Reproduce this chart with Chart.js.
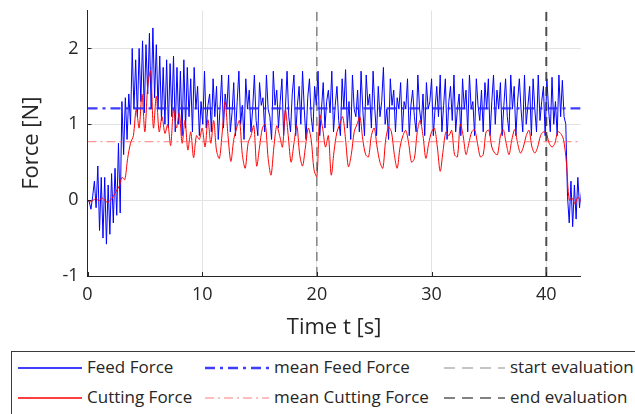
<!DOCTYPE html>
<html>
<head>
<meta charset="utf-8">
<script src="https://cdn.jsdelivr.net/npm/chart.js@4.4.0/dist/chart.umd.min.js"></script>
<style>
  html, body { margin: 0; padding: 0; background: #fff; overflow: hidden; }
  body { width: 635px; height: 414px; position: relative; font-family: "Open Sans", sans-serif; }
  #chartBox { position: absolute; left: 0; top: 0; width: 635px; height: 345px; }
  #legendBox { position: absolute; left: 11px; top: 351px; width: 640px; height: 80px;
               border: 1.5px solid #3a3a3a; box-sizing: border-box; }
  .item { position: absolute; height: 20px; font-size: 17px; color: #262626; line-height: 20px; white-space: nowrap; }
  .item svg { position: absolute; left: 0; top: 0; }
  .item span { position: absolute; top: -1px; }
</style>
</head>
<body>
<div id="chartBox"><canvas id="forceChart" width="635" height="345"></canvas></div>
<div id="legendBox"></div>
<script>
// sampling grids (s)
const feedStep = 0.15;
const cutStep = 0.25;

// Feed force [N], one value per feedStep
const feedForce = [
  0.0, -0.02, -0.12, 0.05, 0.25, -0.1, 0.45, -0.4, 0.3, -0.5, 0.3, -0.58, 0.2, -0.45, 0.35, -0.3, 0.42, -0.2, 0.75, -0.17,
  1.3, 0.6, 1.35, 0.8, 1.4, 1.0, 2.0, 1.2, 1.85, 1.1, 2.0, 1.3, 2.1, 1.15, 2.05, 1.4, 2.2, 1.2, 2.27, 1.35,
  2.05, 1.2, 1.9, 1.05, 1.75, 1.0, 1.85, 0.95, 1.8, 1.1, 1.9, 0.9, 1.75, 1.0, 1.7, 0.85, 1.85, 0.95, 1.75, 1.1,
  1.6, 0.9, 1.75, 1.2, 1.5, 0.85, 1.3, 1.0, 1.7, 0.95, 1.25, 1.4, 0.9, 1.6, 1.1, 1.5, 0.8, 1.2, 1.65, 0.95,
  1.4, 1.2, 1.65, 0.9, 1.15, 1.55, 0.85, 1.3, 1.7, 1.0, 1.25, 0.8, 1.6, 1.2, 1.45, 0.9, 1.2, 1.65, 1.05, 0.85,
  1.55, 1.25, 1.35, 0.9, 1.65, 1.2, 1.1, 0.8, 1.7, 1.25, 1.45, 0.95, 1.3, 1.6, 0.85, 1.2, 1.7, 1.1, 0.9, 1.4,
  1.65, 0.85, 1.25, 1.5, 1.0, 1.7, 1.2, 0.8, 1.35, 1.6, 1.1, 0.9, 1.5, 1.25, 1.7, 0.85, 1.2, 1.55, 0.95, 1.3,
  1.45, 1.15, 1.7, 0.9, 1.25, 1.5, 1.05, 0.85, 1.6, 1.2, 1.72, 0.95, 1.3, 0.8, 1.65, 1.2, 1.1, 1.45, 0.9, 1.7,
  1.2, 0.85, 1.65, 1.25, 1.4, 0.95, 1.7, 1.2, 0.85, 1.5, 1.1, 1.3, 1.75, 1.0, 1.2, 0.8, 1.6, 1.25, 1.45, 0.9,
  1.35, 1.2, 1.55, 0.9, 1.3, 1.2, 1.6, 0.85, 1.25, 1.45, 1.1, 0.9, 1.65, 1.2, 1.0, 1.4, 0.85, 1.55, 1.2, 1.3,
  1.6, 0.85, 1.2, 1.5, 1.1, 1.65, 0.9, 1.25, 1.6, 0.8, 1.3, 1.5, 1.05, 1.65, 0.9, 1.2, 1.4, 0.85, 1.6, 1.2,
  1.45, 0.9, 1.65, 1.2, 1.3, 0.85, 1.6, 1.25, 1.05, 1.45, 0.9, 1.55, 1.2, 1.6, 0.85, 1.3, 1.65, 1.0, 1.45, 1.2,
  1.55, 0.85, 1.25, 1.6, 1.1, 0.9, 1.65, 1.2, 1.5, 0.85, 1.3, 1.6, 1.2, 0.9, 1.65, 1.0, 1.25, 1.5, 0.85, 1.6,
  1.2, 0.9, 1.65, 1.05, 1.3, 1.5, 0.85, 1.6, 1.2, 0.9, 1.62, 1.0, 1.3, 0.85, 1.65, 1.1, 1.58, 1.1, 1.0, 0.05,
  -0.3, 0.25, -0.35, 0.2, -0.25, 0.3, -0.1, 0.1
];

// Cutting force [N], one value per cutStep
const cuttingForce = [
  0.0, -0.02, 0.0, 0.02, -0.01, 0.03, 0.0, -0.03, 0.0, 0.05, 0.12, 0.18,
  0.3, 0.27, 0.55, 0.75, 0.85, 1.2, 0.95, 1.4, 0.9, 1.5, 1.7, 0.95,
  1.37, 0.9, 1.1, 0.88, 1.0, 0.72, 1.2, 0.95, 1.15, 0.75, 1.05, 0.66,
  0.9, 0.56, 0.85, 0.8, 0.95, 0.7, 1.06, 0.75, 1.05, 0.65, 0.55, 0.9,
  1.3, 0.85, 0.51, 0.8, 0.95, 1.05, 0.6, 0.42, 0.75, 0.85, 0.98, 0.45,
  0.7, 0.95, 1.0, 0.55, 0.33, 0.7, 0.98, 0.85, 0.7, 1.19, 0.85, 0.5,
  0.75, 0.98, 0.6, 0.45, 0.7, 0.95, 0.8, 0.4, 0.31, 1.12, 0.95, 0.7,
  0.85, 0.33, 0.65, 0.9, 1.0, 1.1, 0.8, 0.44, 0.6, 0.9, 1.0, 1.1,
  0.8, 0.6, 0.57, 0.85, 0.95, 0.7, 0.5, 0.42, 0.8, 0.96, 0.9, 0.6,
  0.42, 0.7, 0.85, 0.92, 0.75, 0.5, 0.55, 0.9, 1.05, 0.85, 0.55, 0.75,
  0.9, 0.95, 0.7, 0.38, 0.65, 0.9, 0.85, 0.92, 0.6, 0.57, 1.0, 0.85,
  0.6, 0.75, 0.9, 0.93, 0.75, 0.57, 0.6, 0.9, 0.92, 0.7, 0.62, 0.6,
  0.85, 0.93, 0.75, 0.6, 0.8, 0.93, 0.75, 0.62, 0.7, 0.85, 0.92, 0.7,
  0.62, 0.7, 0.85, 0.9, 0.88, 0.75, 0.7, 0.75, 0.9, 0.88, 0.8, 0.5,
  0.0, 0.03, -0.05, 0.04, -0.02
];

const meanFeed = 1.21;
const meanCutting = 0.77;
const startEval = 20;
const endEval = 40;
const timeRange = [0, 43];

const legendLabels = ["Feed Force", "Cutting Force", "mean Feed Force", "mean Cutting Force", "start evaluation", "end evaluation"];

const feedPoints = feedForce.map((v, i) => ({ x: i * feedStep, y: v }));
const cutPoints = cuttingForce.map((v, i) => ({ x: i * cutStep, y: v }));

// small inward tick marks like the original axes
const innerTicks = {
  id: 'innerTicks',
  afterDraw(chart) {
    const { ctx, chartArea, scales } = chart;
    ctx.save();
    ctx.strokeStyle = '#262626';
    ctx.lineWidth = 1;
    scales.y.ticks.forEach(t => {
      const y = Math.round(scales.y.getPixelForValue(t.value)) + 0.5;
      ctx.beginPath(); ctx.moveTo(chartArea.left, y); ctx.lineTo(chartArea.left + 4, y); ctx.stroke();
    });
    scales.x.ticks.forEach(t => {
      const x = Math.round(scales.x.getPixelForValue(t.value)) + 0.5;
      ctx.beginPath(); ctx.moveTo(x, chartArea.bottom); ctx.lineTo(x, chartArea.bottom - 4); ctx.stroke();
    });
    ctx.restore();
  }
};

const ctx = document.getElementById('forceChart').getContext('2d');
new Chart(ctx, {
  type: 'line',
  data: {
    datasets: [
      {
        label: legendLabels[5],
        data: [{ x: endEval, y: -1 }, { x: endEval, y: 2.5 }],
        borderColor: 'rgba(50,50,50,0.85)', borderWidth: 2, borderDash: [9, 6], order: 0
      },
      {
        label: legendLabels[4],
        data: [{ x: startEval, y: -1 }, { x: startEval, y: 2.5 }],
        borderColor: 'rgba(70,70,70,0.8)', borderWidth: 1.2, borderDash: [9, 6], order: 1
      },
      {
        label: legendLabels[3],
        data: [{ x: timeRange[0], y: meanCutting }, { x: timeRange[1], y: meanCutting }],
        borderColor: 'rgba(255,90,90,0.8)', borderWidth: 1, borderDash: [9, 4, 2, 4], order: 2
      },
      {
        label: legendLabels[2],
        data: [{ x: timeRange[0], y: meanFeed }, { x: timeRange[1], y: meanFeed }],
        borderColor: 'rgba(40,40,255,0.9)', borderWidth: 2.2, borderDash: [10, 5, 3, 5], order: 3
      },
      {
        label: legendLabels[1],
        data: cutPoints,
        borderColor: '#ff0000', borderWidth: 1, tension: 0.3, order: 4
      },
      {
        label: legendLabels[0],
        data: feedPoints,
        borderColor: '#0000ff', borderWidth: 1, order: 5
      }
    ]
  },
  options: {
    responsive: false,
    animation: false,
    devicePixelRatio: 1,
    layout: { padding: { left: 0, top: 10.5, right: 54.3, bottom: 0 } },
    elements: { point: { radius: 0 } },
    plugins: { legend: { display: false }, tooltip: { enabled: false } },
    scales: {
      x: {
        type: 'linear',
        min: timeRange[0], max: timeRange[1],
        afterFit: s => { s.height = 69; s.paddingLeft = 0; s.paddingRight = 0; },
        grid: { color: '#e3e3e3', drawTicks: false },
        border: { color: '#262626', width: 1 },
        ticks: { stepSize: 10, includeBounds: false, padding: 8, color: '#262626',
                 font: { family: 'Open Sans', size: 18 } },
        title: { display: true, text: 'Time t [s]', color: '#262626', padding: { bottom: 4.5 },
                 font: { family: 'Open Sans', size: 22 } }
      },
      y: {
        min: -1, max: 2.5,
        afterFit: s => { s.width = 87.5; s.paddingTop = 0; s.paddingBottom = 0; },
        grid: { color: '#e3e3e3', drawTicks: false },
        border: { color: '#262626', width: 1 },
        ticks: { stepSize: 1, includeBounds: false, padding: 9, color: '#262626',
                 font: { family: 'Open Sans', size: 18 } },
        title: { display: true, text: 'Force [N]', color: '#262626', padding: { top: 18.5 },
                 font: { family: 'Open Sans', size: 22 } }
      }
    }
  },
  plugins: [innerTicks]
});

// legend box laid out like the original (3 columns x 2 rows)
const legendItems = [
  { label: legendLabels[0], color: '#0000ff', width: 1.3, dash: '', x: 6, y: 16, len: 64 },
  { label: legendLabels[1], color: '#ff0000', width: 1.3, dash: '', x: 6, y: 46, len: 64 },
  { label: legendLabels[2], color: 'rgba(40,40,255,0.9)', width: 2.4, dash: '10 5 3 5', x: 193, y: 16, len: 64 },
  { label: legendLabels[3], color: 'rgba(255,90,90,0.8)', width: 1, dash: '9 4 2 4', x: 193, y: 46, len: 64 },
  { label: legendLabels[4], color: '#b3b3b3', width: 1.6, dash: '11 7', x: 432, y: 16, len: 61 },
  { label: legendLabels[5], color: '#595959', width: 1.6, dash: '11 7', x: 432, y: 46, len: 61 }
];
const box = document.getElementById('legendBox');
legendItems.forEach(it => {
  const d = document.createElement('div');
  d.className = 'item';
  d.style.left = it.x + 'px';
  d.style.top = (it.y - 10) + 'px';
  d.innerHTML = '<svg width="' + it.len + '" height="20"><line x1="0" y1="10" x2="' + it.len +
    '" y2="10" stroke="' + it.color + '" stroke-width="' + it.width + '" stroke-dasharray="' + it.dash + '"/></svg>' +
    '<span style="left:' + (it.len + 5) + 'px">' + it.label + '</span>';
  box.appendChild(d);
});
</script>
</body>
</html>
